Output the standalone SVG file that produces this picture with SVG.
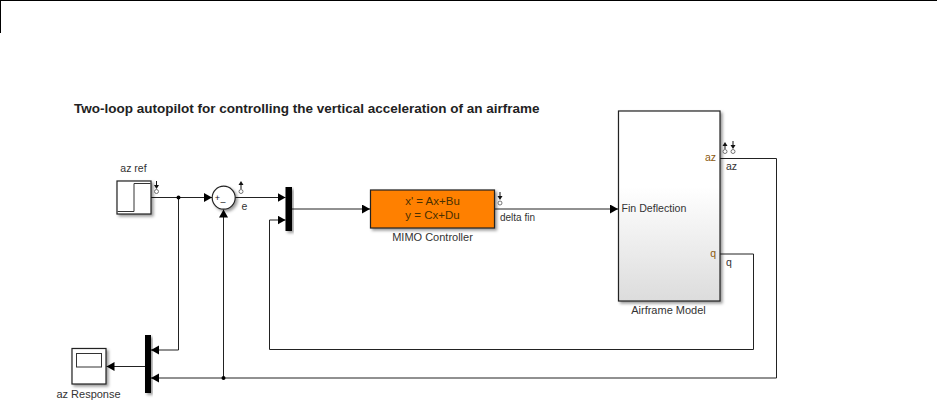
<svg xmlns="http://www.w3.org/2000/svg" width="937" height="409" viewBox="0 0 937 409">
<defs>
<marker id="arrow" markerUnits="userSpaceOnUse" markerWidth="9" markerHeight="10" refX="8" refY="4.5" orient="auto"><path d="M0,0 L8,4.5 L0,9 Z" fill="#000"/></marker>
<linearGradient id="grad" x1="0" y1="0" x2="0" y2="1"><stop offset="0.4" stop-color="#fff"/><stop offset="1" stop-color="#dcdcdc"/></linearGradient>
<filter id="shadow" x="-20%" y="-20%" width="150%" height="150%"><feDropShadow dx="2" dy="2" stdDeviation="1.5" flood-color="#000" flood-opacity="0.4"/></filter>
</defs>
<style>
text{font-family:"Liberation Sans",Arial,sans-serif;font-size:10.500px;fill:#333}
.title{font-size:13.500px;font-weight:bold;fill:#222}
.lbl{font-size:11px}
.blk{stroke:#222;stroke-width:1.2;filter:url(#shadow)}
.w{fill:none;stroke:#222;stroke-width:1}
.a{marker-end:url(#arrow)}
.mux{fill:#000;filter:url(#shadow)}
.tp{fill:#fff;stroke:#555;stroke-width:.8}
.ta{fill:none;stroke:#111;stroke-width:1}
.tah{fill:#111}
.port{fill:#8a5a10}
</style>
<rect width="937" height="409" fill="#fff"/>
<path d="M0,0.5 H937 M0.5,0 V33" stroke="#000" stroke-width="1" fill="none"/>
<text class="title" x="74" y="113">Two-loop autopilot for controlling the vertical acceleration of an airframe</text>
<g id="connectors">
<path class="w a" d="M151,197.500 H212"/>
<path class="w a" d="M235,197.500 H285.500"/>
<path class="w a" d="M178.500,197.500 V350 H151"/>
<path class="w a" d="M223.500,378 V209.500"/>
<path class="w a" d="M292,209 H370"/>
<path class="w a" d="M495,209 H618"/>
<path class="w a" d="M720,158.500 H776.500 V378 H151"/>
<path class="w a" d="M720,254 H753.500 V349.500 H269.500 V220 H285.500"/>
<path class="w a" d="M145,366.500 H106.500"/>
<circle cx="178.500" cy="197.500" r="2"/>
<circle cx="223.500" cy="378" r="2"/>
</g>
<g id="az-ref">
<rect class="blk" x="117" y="181" width="34" height="33" fill="#fff"/>
<path d="M117.500,211.500 H134 V183.500 H150.500" fill="none" stroke="#333" stroke-width="1"/>
<text x="133.500" y="172" text-anchor="middle">az ref</text>
<circle class="tp" cx="156.500" cy="191.500" r="2"/>
<path class="ta" d="M156.500,181 V187"/><path class="tah" d="M154,185 H159 L156.500,189 Z"/>
</g>
<g id="sum">
<circle class="blk" cx="223.700" cy="197.700" r="11.500" fill="#fff"/>
<text x="214.800" y="200.500" style="font-size:9px;fill:#111">+</text>
<text x="220.500" y="205" style="font-size:9px;fill:#111">–</text>
<circle class="tp" cx="241" cy="191.500" r="2"/>
<path class="ta" d="M241,183 V189"/><path class="tah" d="M238.500,185 H243.500 L241,181 Z"/>
<text x="244.500" y="210" text-anchor="middle">e</text>
</g>
<g id="mux1"><rect class="mux" x="285.500" y="187" width="6.500" height="44"/></g>
<g id="mimo-controller">
<rect class="blk" x="370.500" y="190" width="124" height="38" fill="#ff8000"/>
<text class="lbl" x="432.500" y="205" text-anchor="middle" style="fill:#4a3000;font-size:11.500px">x' = Ax+Bu</text>
<text class="lbl" x="432.500" y="219" text-anchor="middle" style="fill:#4a3000;font-size:11.500px">y = Cx+Du</text>
<text class="lbl" x="432.500" y="241" text-anchor="middle">MIMO Controller</text>
<circle class="tp" cx="500" cy="203" r="2"/>
<path class="ta" d="M500,192 V198"/><path class="tah" d="M497.500,196 H502.500 L500,200 Z"/>
<text x="500" y="221" style="font-size:10px">delta fin</text>
</g>
<g id="airframe-model">
<rect class="blk" x="618.500" y="111" width="101.500" height="190" fill="url(#grad)"/>
<text x="621.500" y="212" style="font-size:10.600px">Fin Deflection</text>
<text class="port" x="716" y="161" text-anchor="end">az</text>
<text class="port" x="716" y="257" text-anchor="end">q</text>
<text class="lbl" x="668.500" y="314" text-anchor="middle">Airframe Model</text>
<circle class="tp" cx="725" cy="151.500" r="2"/>
<path class="ta" d="M725,145 V149"/><path class="tah" d="M722.500,146 H727.500 L725,142 Z"/>
<circle class="tp" cx="733" cy="151.500" r="2"/>
<path class="ta" d="M733,141 V147"/><path class="tah" d="M730.500,145 H735.500 L733,149 Z"/>
<text x="726" y="170">az</text>
<text x="726" y="266">q</text>
</g>
<g id="mux2"><rect class="mux" x="145" y="335" width="6" height="58"/></g>
<g id="az-response">
<rect class="blk" x="72" y="348.500" width="34" height="35.500" fill="#fff"/>
<rect x="76.500" y="353.500" width="25" height="13.500" fill="#fff" stroke="#333" stroke-width="1"/>
<text class="lbl" x="88.500" y="398" text-anchor="middle">az Response</text>
</g>
</svg>
